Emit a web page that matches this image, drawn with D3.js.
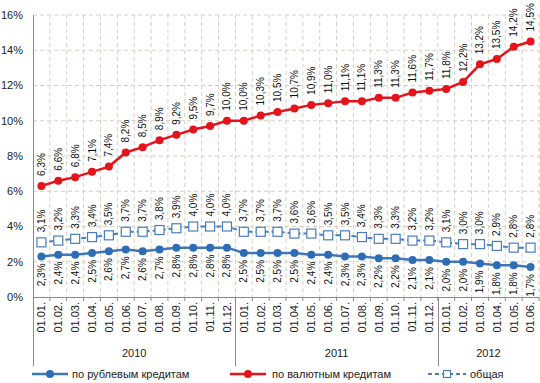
<!DOCTYPE html>
<html><head><meta charset="utf-8">
<script src="https://cdn.jsdelivr.net/npm/d3@7"></script>
<style>body{margin:0;background:#fff}svg{display:block;font-family:"Liberation Sans",Arial,sans-serif}</style>
</head><body><svg id="c" width="540" height="383"></svg>
<script>
const months = ["01.01.","01.02.","01.03.","01.04.","01.05.","01.06.","01.07.","01.08.","01.09.","01.10.","01.11.","01.12.",
"01.01.","01.02.","01.03.","01.04.","01.05.","01.06.","01.07.","01.08.","01.09.","01.10.","01.11.","01.12.",
"01.01.","01.02.","01.03.","01.04.","01.05.","01.06."];
const years = [{label:"2010",n:12},{label:"2011",n:12},{label:"2012",n:6}];
const rubValues = [2.3,2.4,2.4,2.5,2.6,2.7,2.6,2.7,2.8,2.8,2.8,2.8,
2.5,2.5,2.5,2.5,2.4,2.4,2.3,2.3,2.2,2.2,2.1,2.1,
2.0,2.0,1.9,1.8,1.8,1.7];
const fxValues = [6.3,6.6,6.8,7.1,7.4,8.2,8.5,8.9,9.2,9.5,9.7,10.0,
10.0,10.3,10.5,10.7,10.9,11.0,11.1,11.1,11.3,11.3,11.6,11.7,
11.8,12.2,13.2,13.5,14.2,14.5];
const totalValues = [3.1,3.2,3.3,3.4,3.5,3.7,3.7,3.8,3.9,4.0,4.0,4.0,
3.7,3.7,3.7,3.6,3.6,3.5,3.5,3.4,3.3,3.3,3.2,3.2,
3.1,3.0,3.0,2.9,2.8,2.8];
const yTicks = [0,2,4,6,8,10,12,14,16];
const seriesNames = ["по рублевым кредитам","по валютным кредитам","общая"];

const svg = d3.select("#c");
const L=33, R=539, T=15, B=297;
const idx = d3.range(months.length);
const x = d3.scaleBand().domain(idx).range([L,R]);
const y = d3.scaleLinear().domain([0,16]).range([B,T]);
const cx = i => x(i)+x.bandwidth()/2;
const grid = "#d6d0c2";
const fmt = v => d3.format(".1f")(v).replace(".",",")+"%";

// gridlines
svg.append("g").selectAll("line").data(yTicks.slice(1)).join("line")
 .attr("x1",L).attr("x2",R).attr("y1",d=>y(d)).attr("y2",d=>y(d))
 .attr("stroke",grid).attr("stroke-dasharray","4,3");
svg.append("g").selectAll("line").data(idx.slice(1).concat([months.length])).join("line")
 .attr("x1",i=>L+i*x.step()).attr("x2",i=>L+i*x.step()).attr("y1",T).attr("y2",B)
 .attr("stroke",grid).attr("stroke-dasharray","4,3");

// y axis labels
svg.append("g").selectAll("text").data(yTicks).join("text")
 .attr("x",23).attr("y",d=>y(d)).attr("dy","0.35em").attr("text-anchor","end")
 .attr("font-size",11).attr("fill","#222").text(d=>d+"%");

// axes lines
const axc="#8a8a8a";
svg.append("line").attr("x1",L+0.5).attr("x2",L+0.5).attr("y1",T).attr("y2",366).attr("stroke",axc);
svg.append("line").attr("x1",L).attr("x2",R).attr("y1",B+0.5).attr("y2",B+0.5).attr("stroke",axc);
svg.append("g").selectAll("line").data(idx.slice(1).concat([months.length])).join("line")
 .attr("x1",i=>L+i*x.step()).attr("x2",i=>L+i*x.step()).attr("y1",B).attr("y2",B+4).attr("stroke",axc);
// year separators
let acc=0; const yearPos=[];
years.forEach((yr,k)=>{ yearPos.push({label:yr.label, mid:(L+acc*x.step()+L+(acc+yr.n)*x.step())/2}); acc+=yr.n;
  if(k<years.length-1){ const xx=Math.round(L+acc*x.step())+0.5;
   svg.append("line").attr("x1",xx).attr("x2",xx).attr("y1",B).attr("y2",366).attr("stroke",axc);} });

// category labels
svg.append("g").selectAll("text").data(idx).join("text")
 .attr("transform",i=>`translate(${cx(i)},${B+5}) rotate(-90)`).attr("dy","0.35em")
 .attr("text-anchor","end").attr("font-size",11).attr("fill","#222").text(i=>months[i]);
svg.append("g").selectAll("text").data(yearPos).join("text")
 .attr("x",d=>d.mid).attr("y",357).attr("text-anchor","middle").attr("font-size",11).attr("fill","#222").text(d=>d.label);

// lines
const line = vals => d3.line().x((d,i)=>cx(i)).y(d=>y(d))(vals);
const blue="#3f77b7", red="#e5131b", tot="#4a7ebb";
svg.append("path").attr("d",line(totalValues)).attr("fill","none").attr("stroke",tot).attr("stroke-width",2).attr("stroke-dasharray","5,3");
svg.append("path").attr("d",line(rubValues)).attr("fill","none").attr("stroke",blue).attr("stroke-width",2.5);
svg.append("path").attr("d",line(fxValues)).attr("fill","none").attr("stroke",red).attr("stroke-width",2.5);
svg.append("g").selectAll("rect").data(totalValues).join("rect")
 .attr("x",(d,i)=>cx(i)-4.5).attr("y",d=>y(d)-4.5).attr("width",9).attr("height",9)
 .attr("fill","#fff").attr("stroke",tot).attr("stroke-width",1.2);
svg.append("g").selectAll("circle").data(rubValues).join("circle")
 .attr("cx",(d,i)=>cx(i)).attr("cy",d=>y(d)).attr("r",4).attr("fill","#2e6db5");
svg.append("g").selectAll("circle").data(fxValues).join("circle")
 .attr("cx",(d,i)=>cx(i)).attr("cy",d=>y(d)).attr("r",4).attr("fill",red);

// data labels
function labels(vals, above){
 svg.append("g").selectAll("text").data(vals).join("text")
  .attr("transform",(d,i)=>`translate(${cx(i)},${above? y(d)-10 : y(d)+7}) rotate(-90)`)
  .attr("dy","0.35em").attr("text-anchor",above?"start":"end")
  .attr("font-size",10).attr("fill","#111").text(d=>fmt(d));
}
labels(fxValues,true); labels(totalValues,true); labels(rubValues,false);

// legend
const ly=374;
const lg=svg.append("g").attr("font-size",11).attr("fill","#222");
lg.append("line").attr("x1",32).attr("x2",68).attr("y1",ly).attr("y2",ly).attr("stroke",blue).attr("stroke-width",2.5);
lg.append("circle").attr("cx",50).attr("cy",ly).attr("r",4).attr("fill","#2e6db5");
lg.append("text").attr("x",72).attr("y",ly).attr("dy","0.35em").text(seriesNames[0]);
lg.append("line").attr("x1",230).attr("x2",266).attr("y1",ly).attr("y2",ly).attr("stroke",red).attr("stroke-width",2.5);
lg.append("circle").attr("cx",248).attr("cy",ly).attr("r",4).attr("fill",red);
lg.append("text").attr("x",272).attr("y",ly).attr("dy","0.35em").text(seriesNames[1]);
lg.append("line").attr("x1",428).attr("x2",466).attr("y1",ly).attr("y2",ly).attr("stroke",tot).attr("stroke-width",2).attr("stroke-dasharray","4,3");
lg.append("rect").attr("x",443.5).attr("y",ly-3.5).attr("width",7).attr("height",7).attr("fill","#fff").attr("stroke",tot).attr("stroke-width",1.2);
lg.append("text").attr("x",470).attr("y",ly).attr("dy","0.35em").text(seriesNames[2]);
</script></body></html>
